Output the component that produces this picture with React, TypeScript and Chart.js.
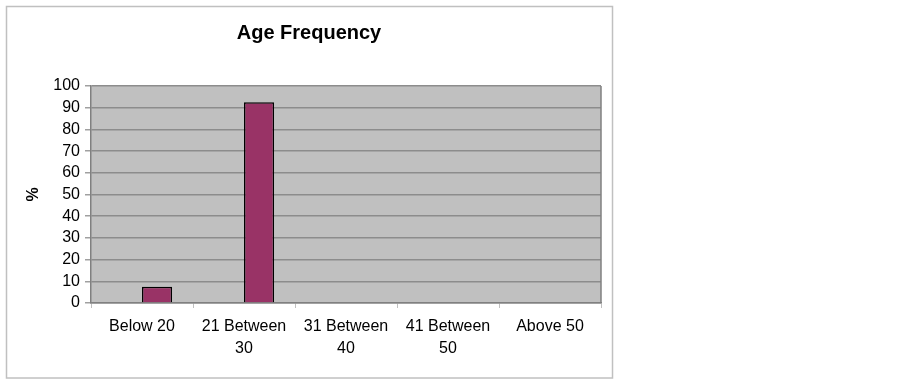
import { useEffect, useRef } from 'react';
import { Chart, registerables } from 'chart.js';

Chart.register(...registerables);

const TITLE = 'Age Frequency';
const Y_TITLE = '%';
const CATEGORIES: string[][] = [
  ['Below 20'],
  ['21 Between', '30'],
  ['31 Between', '40'],
  ['41 Between', '50'],
  ['Above 50'],
];
const EMPTY_SERIES: (number | null)[] = [null, null, null, null, null];
const PERCENT: (number | null)[] = [7.5, 92.5, 0, 0, 0];
const Y_MIN = 0;
const Y_MAX = 100;
const Y_STEP = 10;

const FONT = "'Liberation Sans', Arial, sans-serif";

export default function App() {
  const ref = useRef<HTMLCanvasElement | null>(null);

  useEffect(() => {
    document.body.style.margin = '0';
    const canvas = ref.current;
    if (!canvas) return;

    const framePlugin = {
      id: 'frame',
      beforeDraw(chart: any) {
        const { ctx, chartArea } = chart;
        ctx.save();
        ctx.fillStyle = '#ffffff';
        ctx.fillRect(0, 0, chart.width, chart.height);
        ctx.strokeStyle = '#c0c0c0';
        ctx.lineWidth = 1.5;
        ctx.strokeRect(6.5, 6.5, 606, 371.5);
        ctx.fillStyle = '#c0c0c0';
        ctx.fillRect(chartArea.left, chartArea.top, chartArea.right - chartArea.left, chartArea.bottom - chartArea.top);
        ctx.fillStyle = '#000000';
        ctx.font = `bold 20px ${FONT}`;
        ctx.textAlign = 'center';
        ctx.textBaseline = 'middle';
        ctx.fillText(TITLE, 309, 33);
        ctx.restore();
      },
      beforeDatasetsDraw(chart: any) {
        const { ctx, chartArea } = chart;
        ctx.save();
        ctx.strokeStyle = '#808080';
        ctx.lineWidth = 1.5;
        ctx.beginPath();
        ctx.moveTo(chartArea.right, chartArea.top);
        ctx.lineTo(chartArea.right, chartArea.bottom);
        ctx.stroke();
        ctx.restore();
      },
    };

    const chart = new Chart(canvas, {
      type: 'bar',
      data: {
        labels: CATEGORIES,
        datasets: [
          {
            label: 'empty',
            data: EMPTY_SERIES,
            backgroundColor: '#993366',
            borderColor: '#000000',
            borderWidth: 1.5,
          },
          {
            label: '%',
            data: PERCENT,
            backgroundColor: '#993366',
            borderColor: '#000000',
            borderWidth: 1.5,
          },
        ],
      },
      options: {
        responsive: false,
        animation: false,
        layout: { padding: { top: 86, right: 299, bottom: 0, left: 0 } },
        datasets: {
          bar: { categoryPercentage: 0.59, barPercentage: 1 },
        },
        plugins: {
          legend: { display: false },
          title: { display: false },
          tooltip: { enabled: false },
        },
        scales: {
          x: {
            offset: true,
            grid: {
              offset: true,
              drawOnChartArea: false,
              drawTicks: true,
              tickLength: 5,
              color: '#c0c0c0',
            },
            border: { color: '#808080', width: 1.5 },
            ticks: {
              color: '#000000',
              font: { family: FONT, size: 16, lineHeight: 1.35 },
              padding: 8,
              maxRotation: 0,
              autoSkip: false,
            },
            afterFit(scale: any) {
              scale.height = 82;
            },
          },
          y: {
            min: Y_MIN,
            max: Y_MAX,
            grid: {
              color: '#8c8c8c',
              lineWidth: 1.5,
              tickLength: 6,
              tickColor: '#a0a0a0',
            },
            border: { color: '#808080', width: 1.5 },
            ticks: {
              stepSize: Y_STEP,
              autoSkip: false,
              color: '#000000',
              font: { family: FONT, size: 16 },
              padding: 5,
            },
            title: {
              display: true,
              text: Y_TITLE,
              color: '#000000',
              font: { family: FONT, size: 16, weight: 'bold' },
              padding: { top: 24, bottom: 0 },
            },
            afterFit(scale: any) {
              scale.width = 91;
            },
          },
        },
      },
      plugins: [framePlugin],
    });

    return () => chart.destroy();
  }, []);

  return <canvas ref={ref} width={900} height={385} style={{ display: 'block', width: 900, height: 385 }} />;
}
